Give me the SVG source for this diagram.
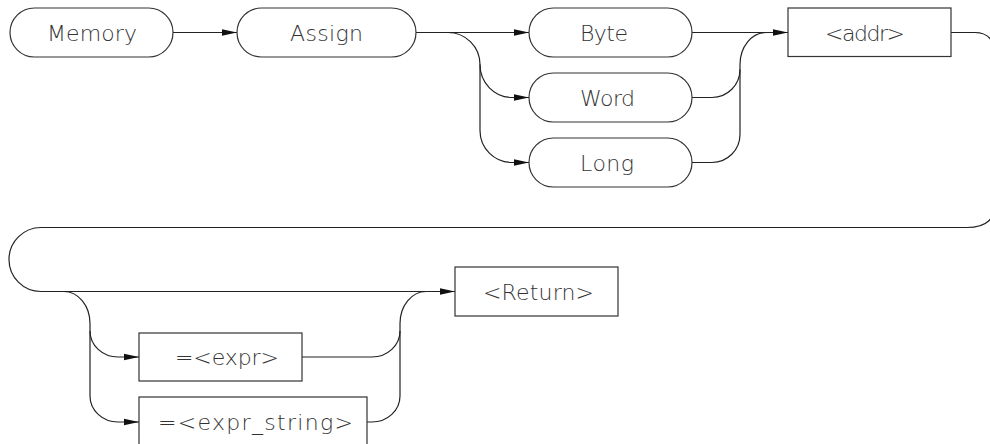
<svg xmlns="http://www.w3.org/2000/svg" width="990" height="444" viewBox="0 0 990 444">
<style>
.n{fill:#fff;stroke:#333;stroke-width:1.2}
.t{font-family:"DejaVu Sans","Liberation Sans",Arial,sans-serif;font-weight:200;font-size:22px;fill:#333;text-anchor:start}
.c{fill:none;stroke:#222;stroke-width:1.2}
.a{marker-end:url(#ah)}
</style>
<defs>
<marker id="ah" markerUnits="userSpaceOnUse" markerWidth="15" markerHeight="8" refX="15" refY="4" orient="auto">
<path d="M0,0.8 L15,4 L0,7.2 z" fill="#111"/>
</marker>
</defs>
<g id="connectors">
<path class="c a" d="M173,32.5 H237"/>
<path class="c a" d="M416,32.5 H529"/>
<path class="c a" d="M448,32.5 A32,32 0 0 1 480,64.5 V130.5 A32,32 0 0 0 512,162.5 H529"/>
<path class="c a" d="M480,64.5 A32,33 0 0 0 512,97.5 H529"/>
<path class="c a" d="M692,32.5 H788"/>
<path class="c" d="M692,97.5 H712 A28,28 0 0 0 740,69.5"/>
<path class="c" d="M692,162.5 H712 A28,28 0 0 0 740,134.5 V64.5 A26,32 0 0 1 766,32.5"/>
<path class="c a" d="M951,32.5 H975 C986,32.5 996,38 996,60 V198 C996,220 986,227.5 967,227.5 H41 A32,32 0 0 0 41,291.5 H455"/>
<path class="c a" d="M64,291.5 A26,32 0 0 1 90,323.5 V396 A28,26 0 0 0 118,422 H139"/>
<path class="c a" d="M90,331 A28,26 0 0 0 118,357 H139"/>
<path class="c" d="M302,357 H372 A28,26 0 0 0 400,331"/>
<path class="c" d="M367,422 H372 A28,26 0 0 0 400,396 V323.5 A26,32 0 0 1 426,291.5"/>
</g>
<g id="memory"><rect class="n" x="10" y="8" width="163" height="49" rx="24.5"/><text class="t" x="47" y="41" textLength="90" lengthAdjust="spacing">Memory</text></g>
<g id="assign"><rect class="n" x="237" y="8" width="179" height="49" rx="24.5"/><text class="t" x="290" y="41" textLength="73" lengthAdjust="spacing">Assign</text></g>
<g id="byte"><rect class="n" x="529" y="8" width="163" height="49" rx="24.5"/><text class="t" x="580" y="41" textLength="48" lengthAdjust="spacing">Byte</text></g>
<g id="word"><rect class="n" x="529" y="73" width="163" height="49" rx="24.5"/><text class="t" x="580" y="105.5" textLength="55" lengthAdjust="spacing">Word</text></g>
<g id="long"><rect class="n" x="529" y="138" width="163" height="49" rx="24.5"/><text class="t" x="580" y="170.5" textLength="54" lengthAdjust="spacing">Long</text></g>
<g id="addr"><rect class="n" x="788" y="8" width="163" height="48.5"/><text class="t" x="825" y="41" textLength="80" lengthAdjust="spacing">&lt;addr&gt;</text></g>
<g id="return"><rect class="n" x="455" y="267" width="163" height="49"/><text class="t" x="483" y="300" textLength="111" lengthAdjust="spacing">&lt;Return&gt;</text></g>
<g id="expr"><rect class="n" x="139" y="333" width="163" height="48"/><text class="t" x="175" y="365" textLength="104" lengthAdjust="spacing">=&lt;expr&gt;</text></g>
<g id="expr_string"><rect class="n" x="139" y="397" width="228" height="49"/><text class="t" x="158" y="430" textLength="195" lengthAdjust="spacing">=&lt;expr_string&gt;</text></g>
</svg>
